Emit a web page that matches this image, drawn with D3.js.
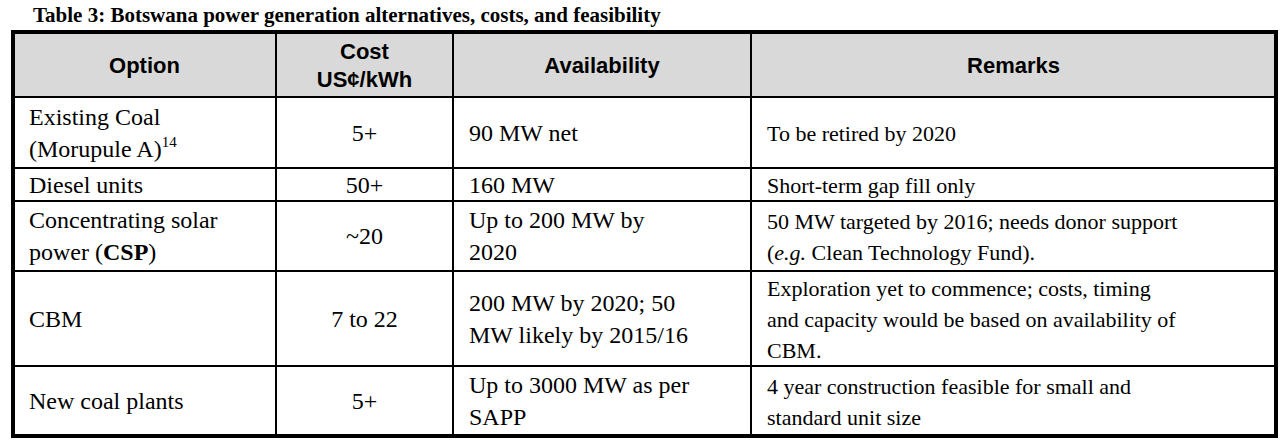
<!DOCTYPE html>
<html><head><meta charset="utf-8">
<script src="https://cdn.jsdelivr.net/npm/d3@7"></script>
<style>body{margin:0;background:#fff}</style>
</head><body>
<script>
// Table rows: each cell is a list of lines; a line is a list of [text, style]
const cols = [
    {x0: 13, x1: 276, align: 'start'},
    {x0: 276, x1: 453, align: 'middle'},
    {x0: 453, x1: 751, align: 'start'},
    {x0: 751, x1: 1276, align: 'start'}
];
const header = [['Option'], ['Cost', 'US¢/kWh'], ['Availability'], ['Remarks']];
const rows = [
    {h: 71, cells: [
        [[['Existing Coal']], [['(Morupule A)'], ['14', 'sup']]],
        [[['5+']]], [[['90 MW net']]], [[['To be retired by 2020']]]]},
    {h: 33, cells: [
        [[['Diesel units']]], [[['50+']]], [[['160 MW']]], [[['Short-term gap fill only']]]]},
    {h: 70, cells: [
        [[['Concentrating solar']], [['power ('], ['CSP', 'b'], [')']]],
        [[['~20']]], [[['Up to 200 MW by']], [['2020']]],
        [[['50 MW targeted by 2016; needs donor support']], [['('], ['e.g.', 'i'], [' Clean Technology Fund).']]]]},
    {h: 95, cells: [
        [[['CBM']]], [[['7 to 22']]], [[['200 MW by 2020; 50']], [['MW likely by 2015/16']]],
        [[['Exploration yet to commence; costs, timing']], [['and capacity would be based on availability of']], [['CBM.']]]]},
    {h: 70, cells: [
        [[['New coal plants']]], [[['5+']]], [[['Up to 3000 MW as per']], [['SAPP']]],
        [[['4 year construction feasible for small and']], [['standard unit size']]]]}
];

const svg = d3.select('body').append('svg').attr('width', 1285).attr('height', 444);

svg.append('text').attr('x', 33).attr('y', 22)
    .attr('font-family', 'Liberation Serif').attr('font-weight', 'bold').attr('font-size', 21)
    .text('Table 3: Botswana power generation alternatives, costs, and feasibility');

const tableTop = 32, headH = 65;
svg.append('rect').attr('x', 13).attr('y', tableTop).attr('width', 1263).attr('height', headH).attr('fill', '#d9d9d9');

header.forEach((lines, i) => {
    const c = cols[i], cx = (c.x0 + c.x1) / 2;
    const y0 = tableTop + headH / 2 - (lines.length - 1) * 14 + 8;
    lines.forEach((t, j) => svg.append('text').attr('x', cx).attr('y', y0 + j * 28)
        .attr('text-anchor', 'middle').attr('font-family', 'Liberation Sans')
        .attr('font-weight', 'bold').attr('font-size', 22).text(t));
});

let y = tableTop + headH;
const rowLines = [y];
rows.forEach(r => {
    r.cells.forEach((lines, i) => {
        const c = cols[i];
        const fs = i === 3 ? 22 : 24;
        const lh = i === 3 ? 31 : 32;
        const y0 = y + r.h / 2 - (lines.length - 1) * lh / 2 + 8;
        lines.forEach((parts, j) => {
            const t = svg.append('text')
                .attr('x', c.align === 'middle' ? (c.x0 + c.x1) / 2 : c.x0 + 16)
                .attr('y', y0 + j * lh).attr('text-anchor', c.align)
                .attr('font-family', 'Liberation Serif').attr('font-size', fs);
            parts.forEach(p => {
                const s = t.append('tspan').text(p[0]);
                if (p[1] === 'b') s.attr('font-weight', 'bold');
                if (p[1] === 'i') s.attr('font-style', 'italic');
                if (p[1] === 'sup') s.attr('font-size', 15).attr('dy', -10);
            });
        });
    });
    y += r.h;
    rowLines.push(y);
});

// grid lines
rowLines.slice(0, -1).forEach(ly => svg.append('line').attr('x1', 13).attr('x2', 1276)
    .attr('y1', ly).attr('y2', ly).attr('stroke', '#000').attr('stroke-width', 2));
cols.slice(1).forEach(c => svg.append('line').attr('x1', c.x0).attr('x2', c.x0)
    .attr('y1', tableTop).attr('y2', y).attr('stroke', '#000').attr('stroke-width', 2));
svg.append('rect').attr('x', 13).attr('y', tableTop).attr('width', 1263).attr('height', y - tableTop)
    .attr('fill', 'none').attr('stroke', '#000').attr('stroke-width', 4);
</script>
</body></html>
